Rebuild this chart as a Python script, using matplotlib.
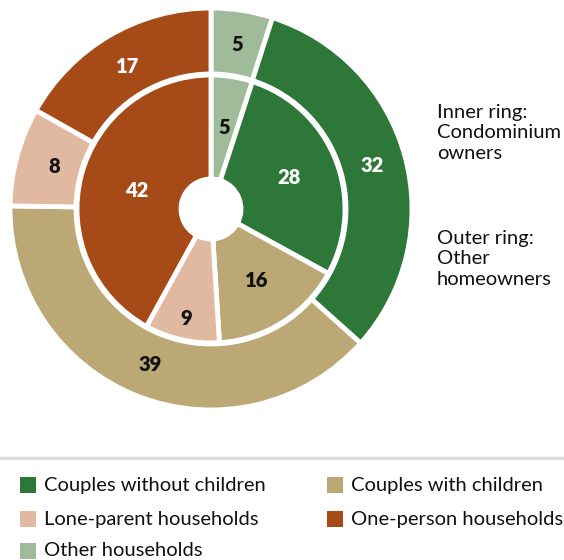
import matplotlib.pyplot as plt
import numpy as np
from matplotlib.patches import Rectangle

plt.rcParams['font.family'] = ['Lato', 'DejaVu Sans']

categories = ['Other households', 'Couples without children', 'Couples with children',
              'Lone-parent households', 'One-person households']
inner_values = [5, 28, 16, 9, 42]   # condominium owners
outer_values = [5, 32, 39, 8, 17]   # other homeowners

colors = ['#9fbb99', '#2d7738', '#bba874', '#e1b9a1', '#a64b17']
text_colors = ['#111111', 'white', '#111111', '#111111', 'white']

W, H = 564, 560
fig = plt.figure(figsize=(W / 100, H / 100), dpi=100)

# pie centre (211, 209) px, outer radius ~200 px
cx, cy, R = 211, 209, 201
ax = fig.add_axes([(cx - R) / W, 1 - (cy + R) / H, 2 * R / W, 2 * R / H])

r_inner = 134 / R
r_hole = 30 / R

wedge_kw = dict(edgecolor='white', linewidth=3.5)
ax.pie(outer_values, radius=1.0, colors=colors, startangle=90, counterclock=False,
       wedgeprops=dict(width=1.0 - r_inner - 0.005, **wedge_kw))
ax.pie(inner_values, radius=r_inner, colors=colors, startangle=90, counterclock=False,
       wedgeprops=dict(width=r_inner - r_hole, **wedge_kw))
ax.set_xlim(-1, 1)
ax.set_ylim(-1, 1)
ax.set_aspect('equal')
ax.axis('off')


def label_ring(values, radii):
    total = sum(values)
    start = 90.0
    for v, r, tc in zip(values, radii, text_colors):
        sweep = 360.0 * v / total
        mid = np.deg2rad(start - sweep / 2)
        ax.text(r * np.cos(mid), r * np.sin(mid), str(v), ha='center', va='center',
                color=tc, fontsize=14.5, fontweight='heavy')
        start -= sweep


label_ring(outer_values, [0.83, 0.83, 0.83, 0.81, 0.82])
label_ring(inner_values, [0.41, 0.42, 0.42, 0.56, 0.38])

# ring captions
fig.text(437 / W, 1 - 104 / H, 'Inner ring:\nCondominium\nowners', ha='left', va='top',
         fontsize=14.5, color='#111111', linespacing=1.25)
fig.text(437 / W, 1 - 230 / H, 'Outer ring:\nOther\nhomeowners', ha='left', va='top',
         fontsize=14.5, color='#111111', linespacing=1.25)

# separator line above legend
fig.add_artist(plt.Line2D([0, 1], [1 - 458 / H, 1 - 458 / H], color='#dcdfdf', lw=2.5,
                          transform=fig.transFigure))

# legend
legend_order = ['Couples without children', 'Couples with children',
                'Lone-parent households', 'One-person households', 'Other households']
col_x = [20, 327]
row_y = [485, 519, 551]
for i, name in enumerate(legend_order):
    x = col_x[i % 2]
    y = row_y[i // 2]
    c = colors[categories.index(name)]
    fig.add_artist(Rectangle((x / W, 1 - (y + 8) / H), 16 / W, 16 / H, facecolor=c,
                             edgecolor='none', transform=fig.transFigure))
    fig.text((x + 24) / W, 1 - y / H, name, ha='left', va='center', fontsize=14.5,
             color='#111111')

fig.savefig('out.png', dpi=100)
